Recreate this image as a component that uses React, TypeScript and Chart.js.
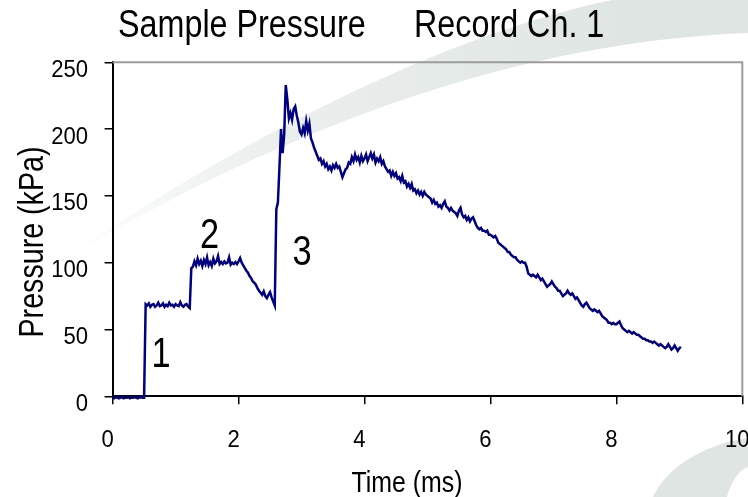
import React, { useEffect, useRef } from 'react';
import { Chart, registerables } from 'chart.js';

Chart.register(...registerables);

// ---- text ----
const TITLE_LEFT = 'Sample Pressure';
const TITLE_RIGHT = 'Record Ch. 1';
const X_AXIS_TITLE = 'Time (ms)';
const Y_AXIS_TITLE = 'Pressure (kPa)';

// ---- axes ----
const X_MIN = 0;
const X_MAX = 10;
const X_STEP = 2;
const Y_MIN = 0;
const Y_MAX = 250;
const Y_STEP = 50;

// ---- data: pressure record sampled every 0.025 ms ----
const TIME_STEP_MS = 0.025;
const PRESSURE_KPA = [
  // 0.00
  -1, -1.5, -0.5, -1, -1.5, -1, -0.5, -1.5, -1, -1,
  // 0.25
  -0.5, -1.5, -1, -1, -0.5, -1, -1.5, -1, -0.5, -1,
  // 0.50
  -1, 69, 68, 69.5, 67, 68.5, 69, 67, 68, 70,
  // 0.75
  67.5, 68, 69.5, 67, 68.5, 67.5, 70, 68, 68.5, 67,
  // 1.00
  69, 68, 67.5, 70.5, 68, 67, 68.5, 69, 67, 66,
  // 1.25
  96, 97, 101, 98, 103, 99, 101.5, 97.5, 102, 99,
  // 1.50
  104, 98, 100.5, 97.5, 103, 99.5, 101, 105, 99, 100.5,
  // 1.75
  99, 101, 99.5, 100, 104, 98.5, 100, 99, 100.5, 99,
  // 2.00
  101, 103.5, 100, 98, 96, 94, 92.5, 90, 88.5, 86,
  // 2.25
  85, 83.5, 81, 79, 77.5, 76, 78.5, 75, 73.5, 76,
  // 2.50
  78, 74, 71, 68, 140, 145, 172, 200, 182, 196,
  // 2.75
  233, 222, 208, 212, 207, 215, 217, 210, 205, 198,
  // 3.00
  196, 201, 197, 206, 199, 204, 193, 190, 186, 183,
  // 3.25
  180, 177, 178, 174, 176, 172, 174, 170, 172, 169,
  // 3.50
  173, 171, 174, 171, 172, 168, 164, 167, 170, 171,
  // 3.75
  175, 174, 179, 176, 181, 177, 179, 175, 180, 176,
  // 4.00
  178, 181, 176, 179, 182, 178, 181, 175, 178, 176,
  // 4.25
  179, 174, 176, 172, 170, 168, 169, 165, 168, 165,
  // 4.50
  167, 163, 164, 161, 165, 160, 161, 157, 159, 156,
  // 4.75
  159, 154, 155, 152, 154, 151, 153, 150, 153, 151,
  // 5.00
  150, 149, 148, 145, 147, 144, 145, 142, 143, 141,
  // 5.25
  144, 146, 142, 141, 139, 141, 139, 138, 137, 135,
  // 5.50
  139, 141, 136, 134, 135, 132, 134, 131, 133, 134,
  // 5.75
  131, 128, 126, 125, 126, 124, 124, 123, 124, 121,
  // 6.00
  121, 120, 119, 120, 118, 115, 114, 113, 112, 111,
  // 6.25
  110, 108, 108, 106, 105, 104, 104, 102, 101, 100,
  // 6.50
  101, 100, 100, 97, 92, 91, 90, 91, 90, 89,
  // 6.75
  91, 89, 87, 88, 86, 84, 82, 83, 84, 86,
  // 7.00
  84, 82, 81, 79, 79, 77, 75, 76, 77, 79,
  // 7.25
  77, 76, 77, 75, 73, 74, 72, 70, 68, 67,
  // 7.50
  69, 70, 68, 66, 65, 64, 65, 64, 63, 64,
  // 7.75
  62, 60, 59, 58, 57, 55, 55, 54, 55, 54,
  // 8.00
  54, 55, 56, 53, 51, 50, 49, 48, 49, 48,
  // 8.25
  47, 48, 47, 46, 46, 45, 44, 43, 43, 42,
  // 8.50
  42, 41, 41, 40, 41, 40, 39, 38, 39, 38,
  // 8.75
  37, 36, 37, 39, 37, 35, 36, 38, 36, 34,
  // 9.00
  36, 37,
];

// ---- event annotations (data coordinates) ----
const EVENT_LABELS = ['1', '2', '3'];
const EVENT_TIMES_MS = [0.77, 1.54, 3.01];
const EVENT_LABEL_KPA = [22, 111, 98.5];

const FONT = '"Liberation Sans", Arial, sans-serif';

function drawNarrow(
  ctx: CanvasRenderingContext2D,
  text: string,
  x: number,
  y: number,
  size: number,
  squeeze: number,
  align: CanvasTextAlign,
  rotate = 0
) {
  ctx.save();
  ctx.translate(x, y);
  if (rotate) ctx.rotate(rotate);
  ctx.scale(squeeze, 1);
  ctx.font = `${size}px ${FONT}`;
  ctx.textAlign = align;
  ctx.textBaseline = 'alphabetic';
  ctx.fillStyle = '#000';
  ctx.fillText(text, 0, 0);
  ctx.restore();
}

export default function App() {
  const ref = useRef<HTMLCanvasElement>(null);

  useEffect(() => {
    const canvas = ref.current;
    if (!canvas) return;

    const points = PRESSURE_KPA.map((p, i) => ({ x: i * TIME_STEP_MS, y: p }));

    const decor = {
      id: 'decor',
      beforeDraw(chart: any) {
        const ctx = chart.ctx as CanvasRenderingContext2D;
        ctx.save();
        const g = ctx.createLinearGradient(60, 0, 640, 0);
        g.addColorStop(0, 'rgba(222,229,227,0)');
        g.addColorStop(0.35, 'rgba(222,229,227,0.6)');
        g.addColorStop(1, 'rgba(222,229,227,1)');
        ctx.fillStyle = g;
        ctx.beginPath();
        ctx.moveTo(60, 262);
        ctx.bezierCurveTo(200, 165, 420, 40, 612, 0);
        ctx.lineTo(748, 0);
        ctx.lineTo(748, 33);
        ctx.bezierCurveTo(560, 40, 330, 100, 60, 262);
        ctx.closePath();
        ctx.fill();

        ctx.fillStyle = '#dfe5e3';
        ctx.beginPath();
        ctx.moveTo(653, 497);
        ctx.bezierCurveTo(665, 470, 700, 445, 748, 438);
        ctx.lineTo(748, 467);
        ctx.bezierCurveTo(738, 470, 730, 485, 727, 497);
        ctx.closePath();
        ctx.fill();
        ctx.restore();
      },
      afterDraw(chart: any) {
        const ctx = chart.ctx as CanvasRenderingContext2D;
        const a = chart.chartArea;
        const xs = chart.scales.x;
        const ys = chart.scales.y;
        ctx.save();
        ctx.strokeStyle = '#9c9c9c';
        ctx.lineWidth = 2;
        ctx.beginPath();
        ctx.moveTo(a.left, a.top);
        ctx.lineTo(a.right, a.top);
        ctx.lineTo(a.right, a.bottom);
        ctx.stroke();
        ctx.restore();

        // tick labels
        xs.ticks.forEach((t: any) => {
          drawNarrow(ctx, String(t.value), xs.getPixelForValue(t.value) - 5, a.bottom + 50.5, 24, 0.92, 'center');
        });
        ys.ticks.forEach((t: any) => {
          drawNarrow(ctx, String(t.value), a.left - 24.5, ys.getPixelForValue(t.value) + 14.5, 24, 0.92, 'right');
        });

        // titles
        drawNarrow(ctx, TITLE_LEFT, 118, 37, 38, 0.85, 'left');
        drawNarrow(ctx, TITLE_RIGHT, 414, 37, 38, 0.85, 'left');
        drawNarrow(ctx, X_AXIS_TITLE, 407, 492, 30, 0.83, 'center');
        drawNarrow(ctx, Y_AXIS_TITLE, 43, 242, 34.5, 0.83, 'center', -Math.PI / 2);

        // event labels
        EVENT_LABELS.forEach((lab, i) => {
          drawNarrow(ctx, lab, xs.getPixelForValue(EVENT_TIMES_MS[i]), ys.getPixelForValue(EVENT_LABEL_KPA[i]), 43, 0.8, 'center');
        });
      },
    };

    const chart = new Chart(canvas, {
      type: 'line',
      data: {
        datasets: [
          {
            data: points,
            borderColor: '#000080',
            borderWidth: 2.5,
            pointRadius: 0,
            fill: false,
            tension: 0,
            clip: false,
          },
        ],
      },
      options: {
        responsive: false,
        animation: false,
        events: [],
        layout: { padding: { top: 62.3, right: 5.7, bottom: 0, left: 0 } },
        plugins: {
          legend: { display: false },
          tooltip: { enabled: false },
          title: { display: false },
        },
        scales: {
          x: {
            type: 'linear',
            min: X_MIN,
            max: X_MAX,
            ticks: { stepSize: X_STEP, display: false, autoSkip: false },
            grid: {
              display: true,
              drawOnChartArea: false,
              drawTicks: true,
              tickLength: 8,
              color: '#000',
              lineWidth: 1.5,
            },
            border: { display: true, color: '#000', width: 2 },
            afterFit(s: any) {
              s.height = 100.7;
              s.paddingLeft = 0;
              s.paddingRight = 0;
            },
          },
          y: {
            type: 'linear',
            min: Y_MIN,
            max: Y_MAX,
            ticks: { stepSize: Y_STEP, display: false },
            grid: {
              display: true,
              drawOnChartArea: false,
              drawTicks: true,
              tickLength: 8,
              color: '#000',
              lineWidth: 1.5,
            },
            border: { display: true, color: '#000', width: 2 },
            afterFit(s: any) {
              s.width = 112.6;
              s.paddingTop = 0;
              s.paddingBottom = 0;
            },
          },
        },
      },
      plugins: [decor],
    } as any);

    return () => chart.destroy();
  }, []);

  return (
    <div style={{ position: 'fixed', left: 0, top: 0, width: 748, height: 497, background: '#fff' }}>
      <canvas ref={ref} width={748} height={497} style={{ width: 748, height: 497, display: 'block' }} />
    </div>
  );
}
